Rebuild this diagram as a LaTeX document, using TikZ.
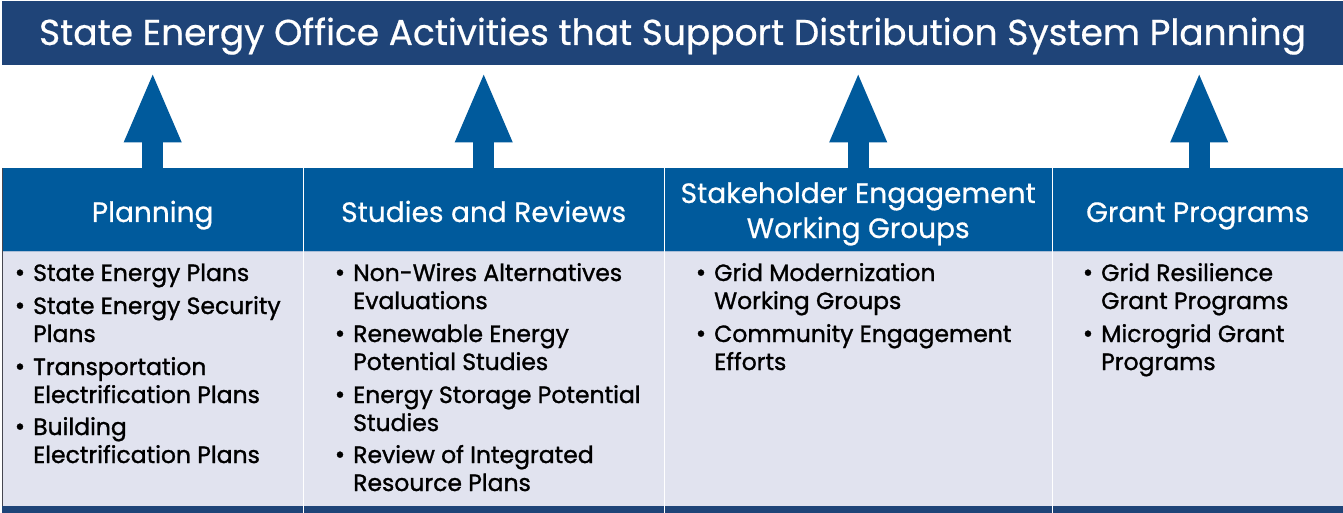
\documentclass[tikz,border=0pt]{standalone}
\usepackage{fontspec}
\setmainfont{Poppins}
\newfontfamily\medfont{Poppins}[FakeBold=1.2]
\newfontfamily\hfont{Poppins}[FakeBold=0.6]
\usetikzlibrary{arrows.meta}
\definecolor{navy}{RGB}{31,68,120}
\definecolor{hblue}{RGB}{0,90,156}
\definecolor{bodybg}{RGB}{225,227,239}
\begin{document}
\begin{tikzpicture}[x=1pt,y=-1pt,
  titletext/.style={text=white,inner sep=0,font=\hfont\fontsize{36}{40}\selectfont},
  htext/.style={text=white,inner sep=0,font=\hfont\fontsize{28}{34}\selectfont},
  btext/.style={text=black,inner sep=0,anchor=base west,font=\medfont\fontsize{23.5}{28}\selectfont},
  bul/.style={text=black,inner sep=0,anchor=base,font=\medfont\fontsize{25}{28}\selectfont},
  hcell/.style={fill=hblue,inner sep=0,minimum height=83pt,anchor=north west},
  upconn/.style={hblue,line width=21pt,-{Triangle[width=52pt,length=71pt]}},
  divider/.style={white,line width=1.5pt}]
\useasboundingbox (0,0) rectangle (1343,513);
\fill[white] (0,0) rectangle (1343,513);
% title bar
\node[fill=navy,inner sep=0,minimum width=1341pt,minimum height=64pt,anchor=north west] (title) at (2,1) {};
\node[titletext,anchor=base] (tt) at (672.5,45) {State Energy Office Activities that Support Distribution System Planning};
% body and bottom band
\fill[bodybg] (2,251) rectangle (1343,506);
\fill[navy] (2,506) rectangle (1343,513);
% header cells
\node[hcell,minimum width=301pt] (h1) at (2,168) {};
\node[hcell,minimum width=361pt] (h2) at (303,168) {};
\node[hcell,minimum width=388pt] (h3) at (664,168) {};
\node[hcell,minimum width=291pt] (h4) at (1052,168) {};
\draw[line width=0.8pt,color={rgb,255:red,170;green,190;blue,215}] (2,251) -- (1343,251);
% dividers
\draw[divider] (h1.north east) -- (h1.north east |- 0,513);
\draw[divider] (h2.north east) -- (h2.north east |- 0,513);
\draw[divider] (h3.north east) -- (h3.north east |- 0,513);
\draw[line width=1pt,color={rgb,255:red,70;green,70;blue,80}] (2.5,168) -- (2.5,506);
% arrows
\draw[upconn] (h1.north) -- ([yshift=-6pt]title.south -| h1.north);
\draw[upconn] (h2.north) -- ([yshift=-6pt]title.south -| h2.north);
\draw[upconn] (h3.north) -- ([yshift=-6pt]title.south -| h3.north);
\draw[upconn] ([xshift=1.5pt]h4.north) -- ([yshift=-6pt,xshift=1.5pt]title.south -| h4.north);
% header labels
\node[htext,anchor=base] (l1) at (h1.center |- 0,222) {Planning};
\node[htext,anchor=base] (l2) at (h2.center |- 0,222) {Studies and Reviews};
\node[htext,anchor=base] (l3a) at (h3.center |- 0,203) {Stakeholder Engagement};
\node[htext,anchor=base] (l3b) at (h3.center |- 0,238) {Working Groups};
\node[htext,anchor=base] (l4) at (h4.center |- 0,222) {Grant Programs};
% column 1
\node[bul] (b11) at (20,281) {•}; \node[btext] (t11) at (33,281) {State Energy Plans};
\node[bul] (b12) at (20,314) {•}; \node[btext] (t12) at (33,314) {State Energy Security};
\node[btext] (t12b) at (33,342) {Plans};
\node[bul] (b13) at (20,375) {•}; \node[btext] (t13) at (33,375) {Transportation};
\node[btext] (t13b) at (33,403) {Electrification Plans};
\node[bul] (b14) at (20,435) {•}; \node[btext] (t14) at (33,435) {Building};
\node[btext] (t14b) at (33,463) {Electrification Plans};
% column 2
\node[bul] (b21) at (340,281) {•}; \node[btext] (t21) at (353,281) {Non-Wires Alternatives};
\node[btext] (t21b) at (353,309) {Evaluations};
\node[bul] (b22) at (340,342) {•}; \node[btext] (t22) at (353,342) {Renewable Energy};
\node[btext] (t22b) at (353,370) {Potential Studies};
\node[bul] (b23) at (340,403) {•}; \node[btext] (t23) at (353,403) {Energy Storage Potential};
\node[btext] (t23b) at (353,431) {Studies};
\node[bul] (b24) at (340,463) {•}; \node[btext] (t24) at (353,463) {Review of Integrated};
\node[btext] (t24b) at (353,491) {Resource Plans};
% column 3
\node[bul] (b31) at (701,281) {•}; \node[btext] (t31) at (714,281) {Grid Modernization};
\node[btext] (t31b) at (714,309) {Working Groups};
\node[bul] (b32) at (701,342) {•}; \node[btext] (t32) at (714,342) {Community Engagement};
\node[btext] (t32b) at (714,370) {Efforts};
% column 4
\node[bul] (b41) at (1088,281) {•}; \node[btext] (t41) at (1101,281) {Grid Resilience};
\node[btext] (t41b) at (1101,309) {Grant Programs};
\node[bul] (b42) at (1088,342) {•}; \node[btext] (t42) at (1101,342) {Microgrid Grant};
\node[btext] (t42b) at (1101,370) {Programs};
\end{tikzpicture}
\end{document}
